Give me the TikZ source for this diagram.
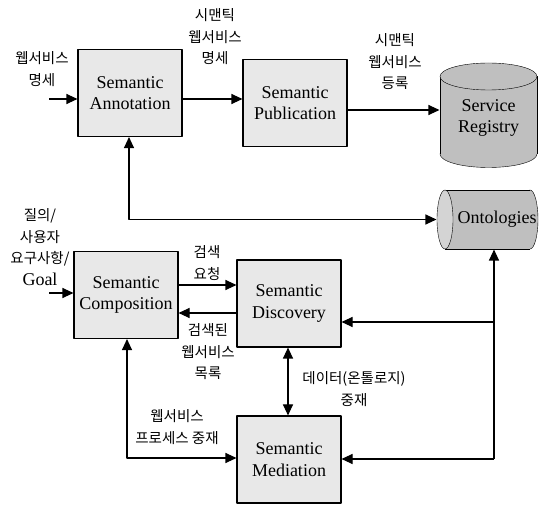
\documentclass[tikz,border=0pt]{standalone}
\usepackage{fontspec}
\setmainfont{Liberation Serif}
\newfontfamily\kr{Noto Sans CJK KR}
\usetikzlibrary{arrows.meta,backgrounds}
\begin{document}
\begin{tikzpicture}[>={Triangle[length=11pt,width=10pt]},line join=round,x=1pt,y=-1pt,line width=1.1pt,
		box/.style={draw,fill=black!9,minimum width=104pt,minimum height=87pt,inner sep=0pt,align=center,font=\fontsize{18}{21.5}\selectfont},
		store/.style={inner sep=0pt,align=center,font=\fontsize{18}{21.5}\selectfont},
		lbl/.style={inner sep=0pt,align=center,font=\kr\fontsize{14.5}{21.5}\selectfont},
		cyl/.style={fill=black!25},
		endcap/.style={fill=black!17}
	]
	\useasboundingbox (0,0) rectangle (539,505);
	% boxes
	\node[box] (ann) at (130,93) {Semantic\\Annotation};
	\node[box] (pub) at (295,103) {Semantic\\Publication};
	\node[box] (comp) at (126,295) {Semantic\\Composition};
	\node[box] (disc) at (289,303.5) {Semantic\\Discovery};
	\node[box] (med) at (289,459.5) {Semantic\\Mediation};
	% stores
	\node[store,minimum width=97pt,minimum height=104pt] (reg) at (488.5,118) {Service\\Registry};
	\node[store,minimum width=102pt,minimum height=59pt] (ont) at (488,219.5) {\hspace*{18pt}Ontologies};
	\begin{scope}[on background layer]
		\filldraw[cyl] (488.5,154) ellipse[x radius=48.5,y radius=13.5];
		\fill[cyl] (440,76.5) rectangle (537,154);
		\draw (440,76.5)--(440,154) (537,76.5)--(537,154);
		\filldraw[cyl] (488.5,76.5) ellipse[x radius=48.5,y radius=13.5];
		\fill[cyl] (445,190) rectangle (530,249);
		\filldraw[cyl] (530,219.5) ellipse[x radius=8,y radius=29.5];
		\fill[cyl] (445,190) rectangle (530,249);
		\draw (445,190)--(530,190) (445,249)--(530,249);
		\filldraw[endcap] (445,219.5) ellipse[x radius=8,y radius=29.5];
	\end{scope}
	% points
	\coordinate (annIn) at (49,99);
	\coordinate (compIn) at (49,293);
	\coordinate (feed) at (494,459);
	% connectors
	\draw[->] (annIn)--(annIn-|ann.west);
	\draw[->] (ann.east|-annIn)--(pub.west|-annIn);
	\draw[->] (pub.east|-0,110)--(reg.west|-0,110);
	\draw[<->] (ann.south-|129,0)|-(ont.west);
	\draw[->] (compIn)--(compIn-|comp.west);
	\draw[->] (comp.east|-0,285)--(disc.west|-0,285);
	\draw[->] (disc.west|-0,313)--(comp.east|-0,313);
	\draw[->] (feed)--(feed|-ont.south);
	\draw[->] (feed)--(med.east|-feed);
	\draw[->] (feed|-0,322)--(disc.east|-0,322);
	\draw[<->] (disc.south-|288,0)--(med.north-|288,0);
	\draw[<->] (comp.south-|127,0)|-(med.west|-0,458);
	% labels
	\node[lbl] (l1) at (42,69) {웹서비스\\명세};
	\node[lbl] (l2) at (215,37) {시맨틱\\웹서비스\\명세};
	\node[lbl] (l3) at (395,62) {시맨틱\\웹서비스\\등록};
	\node[lbl] (l4) at (40,247) {질의/\\사용자\\요구사항/\\{\rmfamily\fontsize{18}{21.5}\selectfont Goal}};
	\node[lbl] (l5) at (207,263) {검색\\요청};
	\node[lbl] (l6) at (208,352) {검색된\\웹서비스\\목록};
	\node[lbl] (l7) at (354,389) {데이터(온톨로지)\\중재};
	\node[lbl] (l8) at (177,427) {웹서비스\\프로세스 중재};
\end{tikzpicture}
\end{document}
